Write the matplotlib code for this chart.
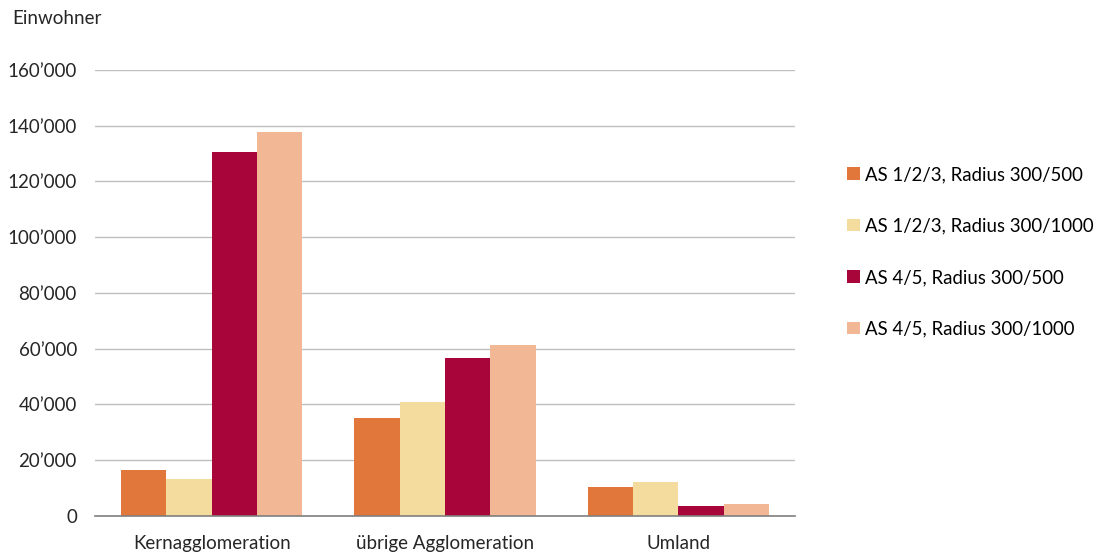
import numpy as np
import matplotlib.pyplot as plt
from matplotlib.ticker import FuncFormatter

plt.rcParams['font.family'] = ['Lato', 'DejaVu Sans']

# data
categories = ["Kernagglomeration", "übrige Agglomeration", "Umland"]
series_names = ["AS 1/2/3, Radius 300/500", "AS 1/2/3, Radius 300/1000",
                "AS 4/5, Radius 300/500", "AS 4/5, Radius 300/1000"]
as123_500 = [16600, 35050, 10500]
as123_1000 = [13400, 40800, 12100]
as45_500 = [130500, 56700, 3700]
as45_1000 = [137800, 61500, 4200]
colors = ["#E1773A", "#F3DC9E", "#A8063A", "#F2B895"]

fig = plt.figure(figsize=(10.96, 5.55), dpi=100)
ax = fig.add_axes([0.0867, 0.0703, 0.6387, 0.8036])

x = np.arange(len(categories))
w = 0.194
for i, vals in enumerate([as123_500, as123_1000, as45_500, as45_1000]):
    ax.bar(x + (i - 1.5) * w, vals, width=w, color=colors[i], label=series_names[i], zorder=3)

ax.set_xlim(-0.5, 2.5)
ax.set_ylim(0, 160000)
ax.set_yticks(np.arange(0, 160001, 20000))
ax.yaxis.set_major_formatter(FuncFormatter(lambda v, p: "0" if v == 0 else f"{int(v):,}".replace(",", "\u2019")))
ax.set_xticks(x)
ax.set_xticklabels(categories)
ax.tick_params(length=0, labelsize=13.5, colors="#262626")
ax.tick_params(axis='y', pad=13)
ax.tick_params(axis='x', pad=14)
ax.grid(axis='y', color="#BFBFBF", linewidth=1, zorder=0)
for s in ["top", "right", "left"]:
    ax.spines[s].set_visible(False)
ax.spines["bottom"].set_color("#7F7F7F")
ax.spines["bottom"].set_linewidth(1.2)
ax.spines["bottom"].set_zorder(4)

fig.text(12 / 1096, 1 - 18 / 555, "Einwohner", fontsize=13.5, color="#262626", va="center")

ax.legend(loc="upper left", bbox_to_anchor=(1.051, 0.822), frameon=False, fontsize=13.4,
          handlelength=0.65, handleheight=0.65, handletextpad=0.3, labelspacing=1.85)

fig.savefig("out.png", dpi=100)
